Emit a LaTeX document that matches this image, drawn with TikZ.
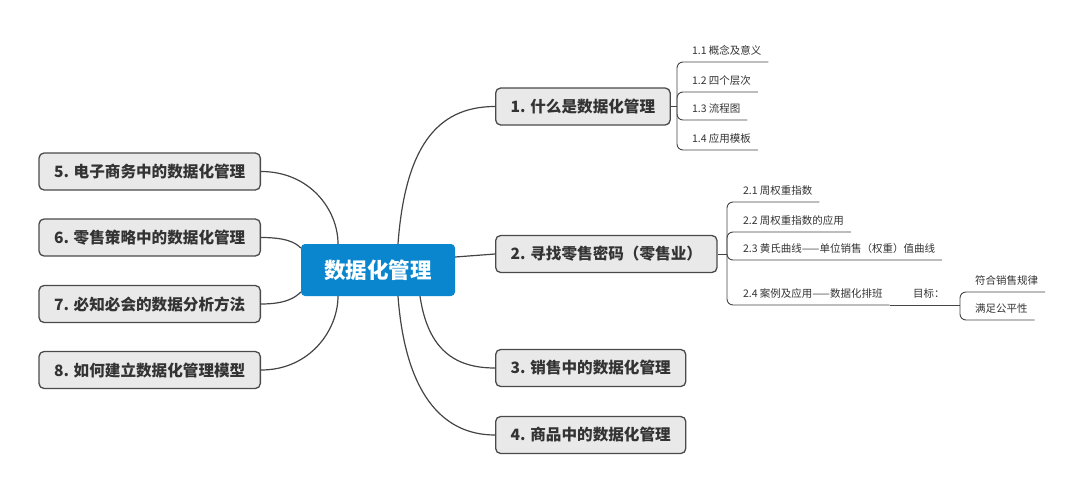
\documentclass[tikz,border=0pt]{standalone}
\usepackage{fontspec}
\setmainfont{Noto Sans CJK SC}
\usetikzlibrary{calc}
\definecolor{rootblue}{HTML}{0A86CF}
\definecolor{nodefill}{HTML}{E9E9E9}
\definecolor{bordergray}{HTML}{4A4A4A}
\definecolor{textgray}{HTML}{333333}
\definecolor{linegray}{HTML}{444444}
\begin{document}
\begin{tikzpicture}[x=1pt,y=-1pt,
  rootbox/.style={fill=rootblue, rounded corners=4pt, minimum width=154pt, minimum height=52pt,
    text=white, font=\fontsize{21.5}{24}\selectfont\bfseries, inner sep=0pt},
  mainbox/.style={draw=bordergray, fill=nodefill, line width=1.3pt, rounded corners=5pt,
    inner xsep=15pt, inner ysep=0pt, minimum height=37pt, text=textgray,
    font=\fontsize{15.6}{18}\selectfont\bfseries},
  subtext/.style={font=\fontsize{10.5}{12}\selectfont, text=textgray, inner xsep=7pt,
    inner ysep=5pt, text height=8pt, text depth=3pt, anchor=south west, outer sep=0pt},
  link/.style={draw=linegray, line width=1.2pt},
  subline/.style={draw=linegray, line width=0.9pt, rounded corners=6pt}
]
\useasboundingbox (0,0) rectangle (1080,493);

% root
\node[rootbox] (root) at (378,270) {数据化管理};

% right main topics
\node[mainbox, anchor=west] (n1) at (495,106.5) {1. 什么是数据化管理};
\node[mainbox, anchor=west] (n2) at (495,254) {2. 寻找零售密码（零售业）};
\node[mainbox, anchor=west] (n3) at (495,368) {3. 销售中的数据化管理};
\node[mainbox, anchor=west] (n4) at (495,435) {4. 商品中的数据化管理};

% left main topics
\node[mainbox, anchor=east] (n5) at (261,171.5) {5. 电子商务中的数据化管理};
\node[mainbox, anchor=east] (n6) at (261,237.5) {6. 零售策略中的数据化管理};
\node[mainbox, anchor=east] (n7) at (261,304) {7. 必知必会的数据分析方法};
\node[mainbox, anchor=east] (n8) at (261,370) {8. 如何建立数据化管理模型};

% connectors from root
\draw[link] ($(root.north)+(20,0)$) .. controls (405,150) and (435,106.5) .. (n1.west);
\draw[link] ($(root.east)+(0,-13)$) .. controls (475,255) .. (n2.west);
\draw[link] ($(root.south)+(42,0)$) .. controls (428,350) and (455,368) .. (n3.west);
\draw[link] ($(root.south)+(20,0)$) .. controls (405,390) and (440,435) .. (n4.west);
\draw[link] (n5.east) .. controls (310,171.5) and (338,210) .. ($(root.north)+(-40,0)$);
\draw[link] (n6.east) .. controls (285,237.5) and (295,242) .. ($(root.west)+(0,-22)$);
\draw[link] (n7.east) .. controls (285,304) and (295,298) .. ($(root.west)+(0,22)$);
\draw[link] (n8.east) .. controls (310,370) and (338,330) .. ($(root.south)+(-40,0)$);

% subtopics of 1
\coordinate (s1) at (677,106.5);
\node[subtext] (t11) at (685,62) {1.1 概念及意义};
\node[subtext] (t12) at (685,92) {1.2 四个层次};
\node[subtext] (t13) at (685,120) {1.3 流程图};
\node[subtext] (t14) at (685,150) {1.4 应用模板};
\draw[subline] (n1.east) -- (s1);
\draw[subline] (s1) |- (t11.south east);
\draw[subline] (s1) |- (t12.south east);
\draw[subline] (s1) |- (t13.south east);
\draw[subline] (s1) |- (t14.south east);

% subtopics of 2
\coordinate (s2) at (727,254);
\node[subtext] (t21) at (736,202) {2.1 周权重指数};
\node[subtext] (t22) at (736,232) {2.2 周权重指数的应用};
\node[subtext] (t23) at (736,260) {2.3 黄氏曲线——单位销售（权重）值曲线};
\node[subtext] (t24) at (736,305) {2.4 案例及应用——数据化排班};
\node[subtext] (tg) at (906,305) {目标：};
\draw[subline] (n2.east) -- (s2);
\draw[subline] (s2) |- (t21.south east);
\draw[subline] (s2) |- (t22.south east);
\draw[subline] (s2) |- (t23.south east);
\draw[subline] (s2) |- (t24.south east);

% goal children
\coordinate (s3) at (960,305);
\node[subtext] (t31) at (968,292) {符合销售规律};
\node[subtext] (t32) at (968,320) {满足公平性};
\draw[subline] (t24.south east) -- (s3);
\draw[subline] (s3) |- (t31.south east);
\draw[subline] (s3) |- (t32.south east);
\end{tikzpicture}
\end{document}
